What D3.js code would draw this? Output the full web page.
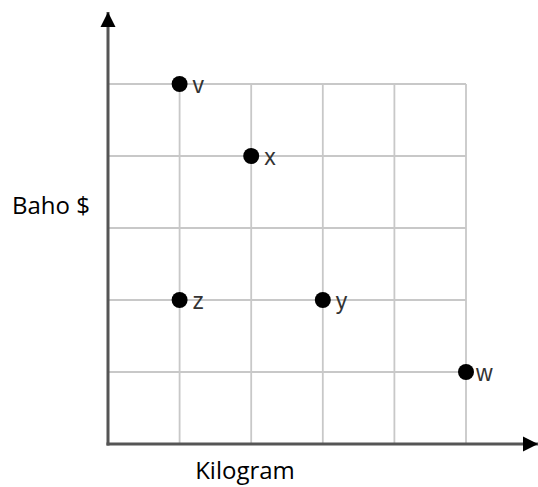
<!DOCTYPE html>
<html>
<head>
<meta charset="utf-8">
<script src="https://cdn.jsdelivr.net/npm/d3@7"></script>
<style>
body { margin: 0; background: #fff; }
</style>
</head>
<body>
<svg></svg>
<script>
var screen = {width: 538, height: 487}

// grid positions (units) and the points
var gridTicks = [0, 1, 2, 3, 4, 5]
var pointNames = ["v", "x", "z", "y", "w"]
var pointX = [1, 2, 1, 3, 5]
var pointY = [5, 4, 2, 2, 1]

var xScale = d3.scaleLinear().domain([0, 5]).range([108, 466])
var yScale = d3.scaleLinear().domain([0, 5]).range([444, 84])

var svg = d3.select("svg")
    .attr("width", screen.width)
    .attr("height", screen.height)

// grid
svg.selectAll(".vline")
    .data(gridTicks.slice(1))
    .enter()
    .append("line")
    .attr("x1", function(d){ return xScale(d) })
    .attr("x2", function(d){ return xScale(d) })
    .attr("y1", yScale(5))
    .attr("y2", yScale(0))
    .style("stroke", "#c8c8c8")
    .style("stroke-width", 1.8)

svg.selectAll(".hline")
    .data(gridTicks.slice(1))
    .enter()
    .append("line")
    .attr("x1", xScale(0))
    .attr("x2", xScale(5))
    .attr("y1", function(d){ return yScale(d) })
    .attr("y2", function(d){ return yScale(d) })
    .style("stroke", "#c8c8c8")
    .style("stroke-width", 1.8)

// axes with arrows
svg.append("defs").append("marker")
    .attr("id", "arrow")
    .attr("viewBox", "0 0 10 10")
    .attr("refX", 10)
    .attr("refY", 5)
    .attr("markerUnits", "userSpaceOnUse")
    .attr("markerWidth", 15)
    .attr("markerHeight", 16)
    .attr("orient", "auto")
    .append("path")
    .attr("d", "M0,0L10,5L0,10Z")
    .style("fill", "#000")

svg.append("line")
    .attr("x1", xScale(0))
    .attr("x2", xScale(0))
    .attr("y1", yScale(0) + 1.5)
    .attr("y2", 12)
    .style("stroke", "#555")
    .style("stroke-width", 3)
    .attr("marker-end", "url(#arrow)")

svg.append("line")
    .attr("x1", xScale(0) - 1.5)
    .attr("x2", 538)
    .attr("y1", yScale(0))
    .attr("y2", yScale(0))
    .style("stroke", "#555")
    .style("stroke-width", 3)
    .attr("marker-end", "url(#arrow)")

// points
svg.selectAll(".dot")
    .data(pointNames)
    .enter()
    .append("circle")
    .attr("cx", function(d, i){ return xScale(pointX[i]) })
    .attr("cy", function(d, i){ return yScale(pointY[i]) })
    .attr("r", 8)
    .style("fill", "#000")

svg.selectAll(".lbl")
    .data(pointNames)
    .enter()
    .append("text")
    .attr("x", function(d, i){ return xScale(pointX[i]) + (d == "w" ? 10 : 13) })
    .attr("y", function(d, i){ return yScale(pointY[i]) + 9 })
    .style("font-family", "Liberation Sans Narrow, Arial Narrow, sans-serif")
    .style("font-size", "23px")
    .style("fill", "#333")
    .text(function(d){ return d })

// axis titles
svg.append("text")
    .attr("x", 12)
    .attr("y", 214)
    .style("font-family", "Open Sans, sans-serif")
    .style("font-size", "24px")
    .style("fill", "#000")
    .text("Baho $")

svg.append("text")
    .attr("x", 245)
    .attr("y", 479)
    .attr("text-anchor", "middle")
    .style("font-family", "Open Sans, sans-serif")
    .style("font-size", "24px")
    .style("fill", "#000")
    .text("Kilogram")
</script>
</body>
</html>
